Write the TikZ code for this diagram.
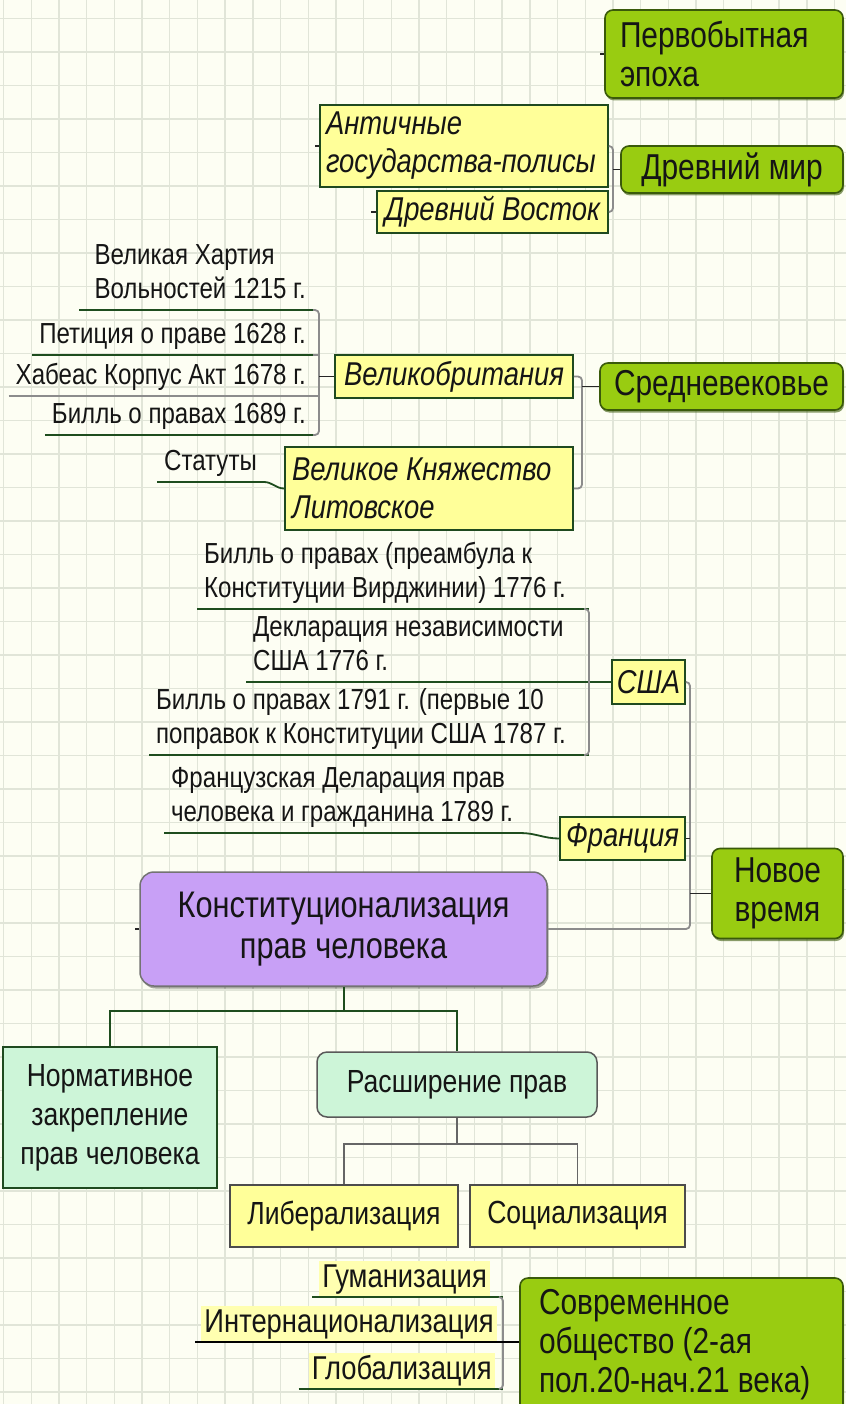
\documentclass[tikz,border=0pt]{standalone}
\usepackage{fontspec}
\setmainfont{Liberation Sans}[FakeStretch=0.83]
\usetikzlibrary{shadows,calc}
\definecolor{bg}{HTML}{FDFEF3}
\definecolor{gridc}{HTML}{E1E5D8}
\definecolor{gfill}{HTML}{99CC11}
\definecolor{gborder}{HTML}{3A5A0A}
\definecolor{yfill}{HTML}{FFFF99}
\definecolor{yborder}{HTML}{1F4A1F}
\definecolor{pfill}{HTML}{C8A0F6}
\definecolor{mfill}{HTML}{CDF5D8}
\definecolor{ulc}{HTML}{1E4D1E}
\definecolor{txt}{HTML}{151515}
\definecolor{hl}{HTML}{FFFFB0}
\begin{document}
\begin{tikzpicture}[x=1pt,y=-1pt,
  gridline/.style={draw=gridc, line width=1.4pt},
  box/.style={inner sep=0pt, text=txt, align=center},
  greenbox/.style={box, draw=gborder, line width=1.6pt, fill=gfill, rounded corners=8pt,
    font=\fontsize{36}{39}\selectfont,
    drop shadow={shadow xshift=1pt, shadow yshift=-2.5pt, fill=gborder, opacity=0.6}},
  yellowbox/.style={box, draw=yborder, line width=1.8pt, fill=yfill,
    font=\itshape\fontsize{33}{38}\selectfont},
  purplebox/.style={box, draw=black!55, line width=1.5pt, fill=pfill, rounded corners=14pt,
    font=\fontsize{37}{41}\selectfont,
    drop shadow={shadow xshift=1.5pt, shadow yshift=-2.5pt, fill=black, opacity=0.35}},
  mintbox/.style={box, fill=mfill, font=\fontsize{32}{39}\selectfont},
  plainybox/.style={box, draw=black!70, line width=1.3pt, fill=yfill,
    font=\fontsize{32}{38}\selectfont},
  lbl/.style={inner xsep=7pt, inner ysep=1pt, text=txt, align=left,
    font=\fontsize{29}{34}\selectfont},
  hlbl/.style={inner xsep=3pt, inner ysep=2pt, text height=25pt, text depth=7pt,
    fill=hl, text=txt, font=\fontsize{33}{38}\selectfont},
  ul/.style={draw=ulc, line width=1.8pt},
  ulgray/.style={draw=black!45, line width=1.4pt},
  brk/.style={draw=black!45, line width=1.8pt, rounded corners=4pt},
  conn/.style={draw=black!85, line width=1.6pt},
  tree/.style={draw=ulc, line width=2pt},
  tree2/.style={draw=black!60, line width=1.8pt},
]
\fill[bg] (0,0) rectangle (846,1404);
\useasboundingbox (0,0) rectangle (846,1404);
\foreach \i in {0,...,30} \draw[gridline] ({3.5+27.7*\i},0) -- ({3.5+27.7*\i},1404);
\foreach \i in {0,...,41} \draw[gridline] (0,{18.5+33.5*\i}) -- (846,{18.5+33.5*\i});

% ---------- Ancient ----------
\node[greenbox, minimum width=238pt, minimum height=88pt, text width=208pt, align=flush left] (pe) at (724,54) {Первобытная\\эпоха};
\node[yellowbox, minimum width=288pt, minimum height=82pt, text width=276pt, align=flush left] (am) at (464,146) {Античные\\государства-полисы};
\node[yellowbox, minimum width=231pt, minimum height=42pt] (dv) at (492.5,212) {Древний Восток};
\node[greenbox, minimum width=222pt, minimum height=47pt] (dm) at (732,169.5) {Древний мир};
\coordinate (bDM) at (613,0);
\draw[brk] (am.east) -- (am.east -| bDM) -- (dv.east -| bDM) -- (dv.east);
\draw[conn] (bDM |- dm.west) -- (dm.west);
\draw[conn] (pe.west) -- ++(-4,0);
\draw[conn] (am.west) -- ++(-4,0);
\draw[conn] (dv.west) -- ++(-5,0);

% ---------- Middle ages ----------
\node[yellowbox, minimum width=238pt, minimum height=43pt] (gb) at (454,376.5) {Великобритания};
\node[yellowbox, minimum width=288pt, minimum height=83pt, text width=274pt, align=flush left] (vkl) at (429,488.5) {Великое Княжество\\Литовское};
\node[greenbox, minimum width=243pt, minimum height=47pt] (sv) at (721.5,386.5) {Средневековье};
\coordinate (bSV) at (582,0);
\draw[brk] (gb.east) -- (gb.east -| bSV) -- (vkl.east -| bSV) -- (vkl.east);
\draw[conn] (bSV |- sv.west) -- (sv.west);

\node[lbl, anchor=south east] (l1) at (313,310) {Великая Хартия\\Вольностей 1215 г.\strut};
\node[lbl, anchor=south east] (l2) at (313,355) {Петиция о праве 1628 г.\strut};
\node[lbl, anchor=south east] (l3) at (313,396) {Хабеас Корпус Акт 1678 г.\strut};
\node[lbl, anchor=south east] (l4) at (313,435) {Билль о правах 1689 г.\strut};
\coordinate (bGB) at (319,0);
\draw[ul] ($(l1.south west)+(-8,0)$) -- (l1.south east);
\draw[ul] (l2.south west) -- (l2.south east);
\draw[ulgray] (l3.south west) -- (l3.south east);
\draw[ul] (l4.south west) -- (l4.south east);
\draw[brk] (l1.south east) -- (l1.south -| bGB) -- (l4.south -| bGB) -- (l4.south east);
\draw[brk] (l2.south east) -- (l2.south -| bGB);
\draw[brk] (l3.south east) -- (l3.south -| bGB);
\draw[conn] (bGB |- gb.west) -- (gb.west);

\node[lbl, anchor=south west] (st) at (157,482) {Статуты\strut};
\draw[ul] (st.south west) -- (st.south east) to[out=0,in=180] (vkl.west);

% ---------- Modern times ----------
\node[yellowbox, minimum width=73pt, minimum height=44pt] (usa) at (648.5,682) {США};
\node[yellowbox, minimum width=125pt, minimum height=43pt] (fr) at (622.5,838.5) {Франция};
\node[greenbox, minimum width=131pt, minimum height=90pt] (nv) at (777.5,893.5) {Новое\\время};
\node[purplebox, minimum width=407pt, minimum height=114pt] (kp) at (343.5,929) {Конституционализация\\прав человека};
\coordinate (bNV) at (690,0);
\draw[brk] (usa.east) -- (usa.east -| bNV) -- (kp.east -| bNV) -- (kp.east);
\draw[conn] (fr.east) -- (fr.east -| bNV);
\draw[conn] (bNV |- nv.west) -- (nv.west);
\draw[conn] (kp.west) -- ++(-4,0);

\node[lbl, anchor=south west] (l5) at (197,609) {Билль о правах (преамбула к\\Конституции Вирджинии) 1776 г.\strut};
\node[lbl, anchor=south west] (l6) at (246,682) {Декларация независимости\\США 1776 г.\strut};
\node[lbl, anchor=south west] (l7) at (149,755) {Билль о правах 1791 г. (первые 10\\поправок к Конституции США 1787 г.\strut};
\node[lbl, anchor=south west] (l8) at (164,833) {Французская Деларация прав\\человека и гражданина 1789 г.\strut};
\coordinate (bUS) at (589,0);
\draw[ul] (l5.south west) -- (l5.south -| bUS);
\draw[ul] (l7.south west) -- (l7.south -| bUS);
\draw[ul] (l6.south west) -- (l6.south west -| usa.west);
\draw[brk] ($(l5.south -| bUS)+(-5,0)$) -- (l5.south -| bUS) -- (l7.south -| bUS) -- ($(l7.south -| bUS)+(-5,0)$);
\draw[ul] (l8.south west) -- (l8.south east) to[out=0,in=180] (fr.west);

% ---------- Bottom tree ----------
\node[mintbox, draw=yborder, line width=2pt, minimum width=214pt, minimum height=141pt] (nz) at (110,1117.5) {Нормативное\\закрепление\\прав человека};
\node[mintbox, draw=black!65, line width=1.5pt, rounded corners=10pt, minimum width=280pt, minimum height=65pt] (rp) at (457,1084.5) {Расширение прав};
\node[plainybox, minimum width=228pt, minimum height=62pt] (lib) at (344,1216) {Либерализация};
\node[plainybox, minimum width=215pt, minimum height=62pt] (soc) at (577.5,1216) {Социализация};
\coordinate (j1) at ($(kp.south)+(0,24)$);
\draw[tree] (kp.south) -- (j1) -| (nz.north);
\draw[tree] (j1) -| (rp.north);
\coordinate (j2) at ($(rp.south)+(0,26)$);
\draw[tree2] (rp.south) -- (j2) -| (lib.north);
\draw[tree2] (j2) -| (soc.north);

% ---------- Contemporary ----------
\node[greenbox, minimum width=323pt, minimum height=134pt, text width=285pt, align=flush left] (so) at (681.5,1345) {Современное\\общество (2-ая\\пол.20-нач.21 века)};
\node[hlbl, anchor=south east] (gum) at (490,1297) {Гуманизация};
\node[hlbl, anchor=south east] (int) at (497,1342) {Интернационализация};
\node[hlbl, anchor=south east] (glo) at (495,1389) {Глобализация};
\coordinate (bSO) at (503,0);
\draw[ul] ($(gum.south west)+(-7,0)$) -- (gum.south -| bSO);
\draw[ul] ($(glo.south west)+(-10,0)$) -- (glo.south -| bSO);
\draw[brk] ($(gum.south -| bSO)+(-4,0)$) -- (gum.south -| bSO) -- (glo.south -| bSO) -- ($(glo.south -| bSO)+(-4,0)$);
\draw[draw=black, line width=2.2pt] ($(int.south west)+(-6,0)$) -- (int.south -| so.west);
\end{tikzpicture}
\end{document}
